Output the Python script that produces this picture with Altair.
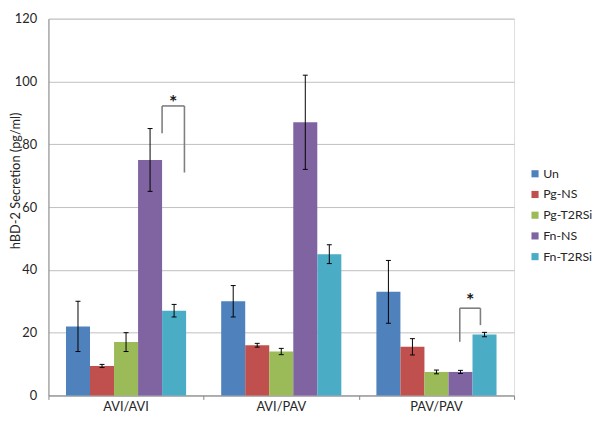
import altair as alt
import pandas as pd

groups = ["AVI/AVI", "AVI/PAV", "PAV/PAV"]
series = ["Un", "Pg-NS", "Pg-T2RSi", "Fn-NS", "Fn-T2RSi"]
colors = ["#4F81BD", "#C0504D", "#9BBB59", "#8064A2", "#4BACC6"]

un_mean = [22, 30, 33]
pgns_mean = [9.4, 16, 15.5]
pgt2_mean = [17, 14, 7.5]
fnns_mean = [75, 87, 7.5]
fnt2_mean = [27, 45, 19.4]

un_err = [8, 5, 10]
pgns_err = [0.5, 0.6, 2.6]
pgt2_err = [3, 1, 0.6]
fnns_err = [10, 15, 0.5]
fnt2_err = [2, 3, 0.7]

# significance brackets: group, left leg (series index + fraction), right leg, top, leg ends, star
br_group = [0, 2]
br_left = [4.0, 3.47]
br_right = [4.93, 4.33]
br_top = [92.2, 27.8]
br_left_end = [83.5, 17.1]
br_right_end = [71.0, 22.4]
br_star = [94.6, 31.7]

means = [un_mean, pgns_mean, pgt2_mean, fnns_mean, fnt2_mean]
errs = [un_err, pgns_err, pgt2_err, fnns_err, fnt2_err]

PAD = 0.113
BW = (1 - 2 * PAD) / 5
CAP = 0.016

W, H = 472, 382

rows = []
for gi, g in enumerate(groups):
    for si, s in enumerate(series):
        x0 = gi + PAD + si * BW
        m = means[si][gi]
        e = errs[si][gi]
        rows.append(dict(group=g, series=s, x0=x0, x1=x0 + BW, xc=x0 + BW / 2,
                         mean=m, zero=0, lo=m - e, hi=m + e,
                         cl=x0 + BW / 2 - CAP, cr=x0 + BW / 2 + CAP))
df = pd.DataFrame(rows)

caps = pd.concat([
    df[["cl", "cr", "lo"]].rename(columns={"lo": "yv"}),
    df[["cl", "cr", "hi"]].rename(columns={"hi": "yv"}),
])

seg = []
stars = []
for i in range(len(br_group)):
    g = br_group[i]
    xl = g + PAD + br_left[i] * BW
    xr = g + PAD + br_right[i] * BW
    seg.append(dict(xa=xl, xb=xl, ya=br_left_end[i], yb=br_top[i]))
    seg.append(dict(xa=xl, xb=xr, ya=br_top[i], yb=br_top[i]))
    seg.append(dict(xa=xr, xb=xr, ya=br_top[i], yb=br_right_end[i]))
    stars.append(dict(x=(xl + xr) / 2, y=br_star[i], t="*"))
segdf = pd.DataFrame(seg)
stardf = pd.DataFrame(stars)
labdf = pd.DataFrame(dict(x=[i + 0.5 for i in range(len(groups))], t=groups))

FONT = "Lato"
xscale = alt.Scale(domain=[0, 3], nice=False, zero=False)
yscale = alt.Scale(domain=[0, 120], nice=False)

bars = alt.Chart(df).mark_rect().encode(
    x=alt.X("x0:Q", scale=xscale,
            axis=alt.Axis(values=[0, 1, 2, 3], labels=False, grid=False, title=None,
                          tickSize=4, tickColor="#868686", domainColor="#868686")),
    x2="x1:Q",
    y=alt.Y("mean:Q", scale=yscale,
            axis=alt.Axis(values=[0, 20, 40, 60, 80, 100, 120], ticks=False,
                          labelPadding=12, labelFontSize=13, labelFont=FONT,
                          labelColor="#262626", gridColor="#BFBFBF",
                          domainColor="#868686",
                          title="hBD-2 Secretion (pg/ml)", titleFont=FONT,
                          titleFontSize=13, titleFontWeight="normal",
                          titleColor="#262626", titleX=-33, titleY=164,
                          titleBaseline="middle")),
    y2="zero:Q",
    color=alt.Color("series:N", scale=alt.Scale(domain=series, range=colors),
                    legend=alt.Legend(orient="none", legendX=487, legendY=151,
                                      title=None, symbolType="square",
                                      symbolSize=52, symbolStrokeWidth=0,
                                      labelFont=FONT, labelFontSize=12.5,
                                      labelColor="#262626", rowPadding=8,
                                      padding=0, labelOffset=2)),
)

ebars = alt.Chart(df).mark_rule(color="#000000", strokeWidth=1).encode(
    x="xc:Q", y="lo:Q", y2="hi:Q")

capl = alt.Chart(caps).mark_rule(color="#000000", strokeWidth=1).encode(
    x="cl:Q", x2="cr:Q", y="yv:Q")

brk = alt.Chart(segdf).mark_rule(color="#7F7F7F", strokeWidth=1.6).encode(
    x="xa:Q", x2="xb:Q", y="ya:Q", y2="yb:Q")

st = alt.Chart(stardf).mark_text(font=FONT, fontSize=20, fontWeight="bold",
                                 color="#1a1a1a", baseline="middle", dy=5).encode(
    x="x:Q", y="y:Q", text="t:N")

glabels = alt.Chart(labdf).mark_text(font=FONT, fontSize=13, color="#262626",
                                     baseline="middle").encode(
    x="x:Q", y=alt.value(H + 12), text="t:N")

chart = alt.layer(bars, ebars, capl, brk, st, glabels).properties(
    width=W, height=H,
    autosize=alt.AutoSizeParams(type="none"),
    padding={"left": 41, "top": 8, "right": 79, "bottom": 18},
).configure_view(stroke=None).configure(background="white")

chart.save("out.html", embed_options={"renderer": "svg", "actions": False})
